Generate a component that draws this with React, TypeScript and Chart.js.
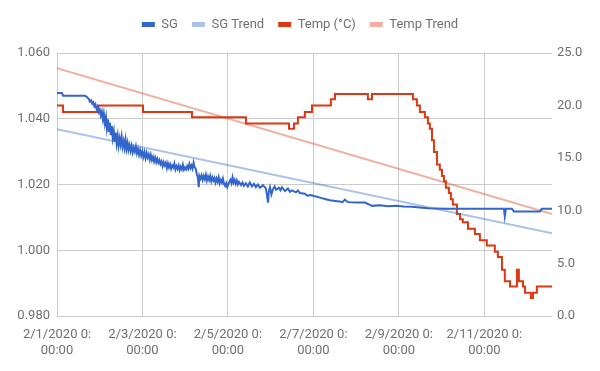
import React, { useEffect, useRef } from 'react';
import { Chart, registerables } from 'chart.js';

Chart.register(...registerables);

// ---- Data (x = hours since 2/1/2020 0:00:00) ----
const seriesLabels = ['SG', 'SG Trend', 'Temp (°C)', 'Temp Trend'];

const xTickLabels = [
  '2/1/2020 0:00:00',
  '2/3/2020 0:00:00',
  '2/5/2020 0:00:00',
  '2/7/2020 0:00:00',
  '2/9/2020 0:00:00',
  '2/11/2020 0:00:00',
];

// [hours, specific gravity]
const sgReadings: [number, number][] = [
  [0, 1.0478], [2.8, 1.0478], [3.4, 1.0470], [15.7, 1.0470],
  [16.8, 1.0466], [17.9, 1.0460], [18.5, 1.0452], [19.2, 1.0456], [19.8, 1.0446],
  [20.4, 1.0450], [21.0, 1.0438], [21.6, 1.0444], [22.2, 1.0430], [22.8, 1.0436],
  [23.4, 1.0420], [24.0, 1.0428], [24.6, 1.0410], [25.2, 1.0422], [25.8, 1.0398],
  [26.3, 1.0415], [26.9, 1.0385], [27.5, 1.0405], [28.0, 1.0372], [28.6, 1.0398],
  [29.1, 1.0360], [29.7, 1.0388], [30.2, 1.0350], [30.8, 1.0378], [31.3, 1.0342],
  [31.9, 1.0362], [32.4, 1.0330], [33.0, 1.0358], [33.5, 1.0325], [34.1, 1.0348],
  [34.6, 1.0318], [35.2, 1.0340], [35.7, 1.0322], [36.3, 1.0345], [36.8, 1.0315],
  [37.4, 1.0332], [37.9, 1.0312], [38.5, 1.0336], [39.0, 1.0308], [39.6, 1.0326],
  [40.1, 1.0305], [40.7, 1.0320], [41.3, 1.0302], [41.9, 1.0318], [42.5, 1.0298],
  [43.1, 1.0312], [43.7, 1.0300], [44.3, 1.0316], [44.9, 1.0295], [45.5, 1.0308],
  [46.1, 1.0290], [46.7, 1.0304], [47.3, 1.0288], [47.9, 1.0300], [48.5, 1.0284],
  [49.1, 1.0298], [49.7, 1.0280], [50.3, 1.0296], [50.9, 1.0282], [51.5, 1.0292],
  [52.1, 1.0276], [52.7, 1.0290], [53.3, 1.0274], [53.9, 1.0284], [54.5, 1.0270],
  [55.1, 1.0282], [55.7, 1.0268], [56.3, 1.0278], [56.9, 1.0266], [57.5, 1.0274],
  [58.1, 1.0262], [58.7, 1.0270], [59.3, 1.0256], [59.9, 1.0268], [60.5, 1.0258],
  [61.1, 1.0266], [61.7, 1.0250], [62.3, 1.0264], [62.9, 1.0252], [63.5, 1.0262],
  [64.1, 1.0248], [64.7, 1.0258], [65.3, 1.0252], [65.9, 1.0264], [66.5, 1.0246],
  [67.1, 1.0256], [67.7, 1.0248], [68.3, 1.0258], [68.9, 1.0244], [69.5, 1.0254],
  [70.1, 1.0246], [70.7, 1.0260], [71.3, 1.0245], [71.9, 1.0252], [72.5, 1.0246],
  [73.1, 1.0256], [73.7, 1.0248], [74.3, 1.0262], [74.9, 1.0250], [75.5, 1.0258],
  [76.1, 1.0248], [76.7, 1.0266], [77.3, 1.0252], [77.9, 1.0248], [78.5, 1.0232],
  [79.1, 1.0222], [79.6, 1.0192], [80.0, 1.0226], [80.6, 1.0218], [81.2, 1.0228],
  [81.8, 1.0214], [82.4, 1.0226], [83.0, 1.0216], [83.6, 1.0230], [84.2, 1.0212],
  [84.8, 1.0224], [85.4, 1.0214], [86.0, 1.0226], [86.6, 1.0210], [87.2, 1.0222],
  [87.8, 1.0212], [88.4, 1.0220], [89.0, 1.0206], [89.6, 1.0218], [90.2, 1.0208],
  [90.8, 1.0222], [91.4, 1.0204], [92.0, 1.0214], [92.6, 1.0206], [93.2, 1.0218],
  [93.8, 1.0202], [94.4, 1.0196], [95.0, 1.0204], [95.6, 1.0192], [96.2, 1.0200],
  [96.8, 1.0208], [97.4, 1.0214], [98.0, 1.0204], [98.6, 1.0222], [99.2, 1.0206],
  [99.8, 1.0214], [100.4, 1.0202], [101.0, 1.0212], [101.6, 1.0200], [102.2, 1.0208],
  [103.4, 1.0198], [104.2, 1.0206], [105.0, 1.0196], [106.1, 1.0204], [107.2, 1.0194],
  [108.3, 1.0206], [109.5, 1.0194], [110.6, 1.0202], [111.7, 1.0192], [112.8, 1.0200],
  [114.0, 1.0190], [115.7, 1.0198], [117.3, 1.0188], [118.0, 1.0165], [118.5, 1.0145],
  [119.0, 1.0180], [119.6, 1.0192], [120.4, 1.0170], [121.3, 1.0186], [122.2, 1.0194],
  [123.0, 1.0184], [124.6, 1.0190], [125.5, 1.0182], [126.3, 1.0192], [128.0, 1.0180],
  [129.7, 1.0188], [130.8, 1.0178], [131.9, 1.0182], [134.2, 1.0176], [135.3, 1.0182],
  [136.4, 1.0174], [139.2, 1.0172], [140.6, 1.0166], [142.1, 1.0168], [144.9, 1.0164],
  [147.7, 1.0160], [150.5, 1.0156], [153.3, 1.0152], [156.1, 1.0150], [158.9, 1.0148],
  [160.3, 1.0146], [161.7, 1.0154], [163.1, 1.0147], [164.5, 1.0146], [169.0, 1.0145],
  [172.9, 1.0145], [175.0, 1.0140], [176.9, 1.0135], [181.4, 1.0137], [185.9, 1.0134],
  [190.3, 1.0135], [194.8, 1.0133], [199.3, 1.0132], [203.8, 1.0130], [208.3, 1.0128],
  [212.8, 1.0127], [217.9, 1.0126], [226.3, 1.0126], [237.5, 1.0126], [251.0, 1.0126],
  [251.5, 1.0103], [252.1, 1.0126], [255.5, 1.0126], [256.6, 1.0118], [271.2, 1.0118],
  [272.3, 1.0126], [278, 1.0126],
];

// [hours, temperature °C] — value holds from this hour on
const tempReadings: [number, number][] = [
  [0, 20.0], [3.4, 19.4], [23.0, 20.0], [48.3, 19.4], [75.8, 18.9],
  [106.1, 18.3], [130.3, 17.8], [133.1, 18.3], [135.3, 18.9], [139.2, 19.4],
  [143.2, 20.0], [153.8, 20.6], [156.1, 21.1], [174.6, 20.6], [176.9, 21.1],
  [199.9, 20.6], [202.1, 20.0], [203.8, 19.4], [206.6, 18.9], [208.3, 18.3],
  [209.4, 17.8], [210.6, 16.7], [211.7, 15.6], [213.4, 14.4], [215.0, 13.9],
  [216.2, 13.3], [217.3, 12.8], [218.4, 12.2], [220.1, 11.7], [221.2, 11.1],
  [222.3, 10.6], [224.6, 9.7], [226.3, 9.2], [227.9, 8.9], [230.8, 8.3],
  [234.7, 7.8], [237.5, 7.2], [241.4, 6.7], [245.9, 6.1], [247.6, 5.6],
  [249.9, 4.4], [251.5, 3.3], [254.4, 2.8], [258.3, 4.4], [259.4, 3.3],
  [261.7, 2.8], [262.8, 2.2], [266.1, 1.7], [267.3, 2.2], [269.5, 2.8],
  [278, 2.8],
];

const trendHours = [0, 278];
const sgTrendValues = [1.0368, 1.0052];
const tempTrendValues = [23.55, 9.7];

const sgRange = [0.98, 1.06];
const tempRange = [0, 25];

export default function App() {
  const ref = useRef<HTMLCanvasElement>(null);

  useEffect(() => {
    const canvas = ref.current;
    if (!canvas) return;
    const fromPairs = (rows: [number, number][]) => rows.map(([x, y]) => ({ x, y }));
    const pts = (xs: number[], ys: number[]) => xs.map((x, i) => ({ x, y: ys[i] }));
    const family = 'Roboto, Arial, sans-serif';
    const textColor = '#707070';
    const gridColor = '#cccccc';

    const legendFit = {
      id: 'legendFit',
      beforeLayout(chart: any) {
        const lg = chart.legend;
        if (lg && !lg._patched) {
          const orig = lg.fit;
          lg.fit = function () {
            orig.call(this);
            this.height = 49;
          };
          lg._patched = true;
        }
      },
    };

    const chart = new Chart(canvas, {
      type: 'line',
      data: {
        datasets: [
          {
            label: seriesLabels[0],
            data: fromPairs(sgReadings),
            borderColor: '#3366cc',
            backgroundColor: '#3366cc',
            borderWidth: 2,
            pointRadius: 0,
            yAxisID: 'y',
          },
          {
            label: seriesLabels[1],
            data: pts(trendHours, sgTrendValues),
            borderColor: 'rgba(51,102,204,0.4)',
            backgroundColor: 'rgba(51,102,204,0.4)',
            borderWidth: 2,
            pointRadius: 0,
            yAxisID: 'y',
          },
          {
            label: seriesLabels[2],
            data: fromPairs(tempReadings),
            borderColor: '#dc3912',
            backgroundColor: '#dc3912',
            borderWidth: 2,
            pointRadius: 0,
            stepped: true,
            yAxisID: 'y1',
          },
          {
            label: seriesLabels[3],
            data: pts(trendHours, tempTrendValues),
            borderColor: 'rgba(220,57,18,0.4)',
            backgroundColor: 'rgba(220,57,18,0.4)',
            borderWidth: 2,
            pointRadius: 0,
            yAxisID: 'y1',
          },
        ],
      },
      options: {
        responsive: false,
        animation: false,
        events: [],
        layout: { padding: { top: 4, left: 0, right: 0, bottom: 0 } },
        plugins: {
          tooltip: { enabled: false },
          legend: {
            position: 'top',
            align: 'center',
            labels: {
              boxWidth: 13,
              boxHeight: 5,
              padding: 14,
              color: textColor,
              font: { family, size: 13 },
              generateLabels(chart: any) {
                const items = (Chart.defaults.plugins.legend.labels as any).generateLabels(chart);
                return items.map((it: any) => ({ ...it, lineWidth: 0, fillStyle: it.strokeStyle }));
              },
            },
          },
        },
        scales: {
          x: {
            type: 'linear',
            min: 0,
            max: 278,
            grid: { color: gridColor, drawTicks: false, lineWidth: 1 },
            border: { display: false },
            ticks: {
              stepSize: 48,
              includeBounds: false,
              maxRotation: 0,
              autoSkip: false,
              padding: 11,
              color: textColor,
              font: { family, size: 13 },
              callback: (_v: any, i: number) => {
                const s = xTickLabels[i];
                if (!s) return '';
                const k = s.indexOf(':') + 1;
                return [s.slice(0, k), s.slice(k)];
              },
            },
            afterFit(scale: any) {
              scale.height = 55;
            },
          },
          y: {
            type: 'linear',
            position: 'left',
            min: sgRange[0],
            max: sgRange[1],
            grid: { color: gridColor, drawTicks: false },
            border: { display: false },
            ticks: {
              stepSize: 0.02,
              padding: 7,
              color: textColor,
              font: { family, size: 13 },
              callback: (v: any) => Number(v).toFixed(3),
            },
            afterFit(scale: any) {
              scale.width = 57;
            },
          },
          y1: {
            type: 'linear',
            position: 'right',
            min: tempRange[0],
            max: tempRange[1],
            grid: { drawOnChartArea: false, drawTicks: false },
            border: { display: false },
            ticks: {
              stepSize: 5,
              padding: 5,
              color: textColor,
              font: { family, size: 13 },
              callback: (v: any) => Number(v).toFixed(1),
            },
            afterFit(scale: any) {
              scale.width = 48;
            },
          },
        },
      } as any,
      plugins: [legendFit],
    });

    return () => chart.destroy();
  }, []);

  return (
    <div style={{ position: 'fixed', left: 0, top: 0, width: 600, height: 371, background: '#fff' }}>
      <canvas ref={ref} width={600} height={371} style={{ width: 600, height: 371, display: 'block' }} />
    </div>
  );
}
